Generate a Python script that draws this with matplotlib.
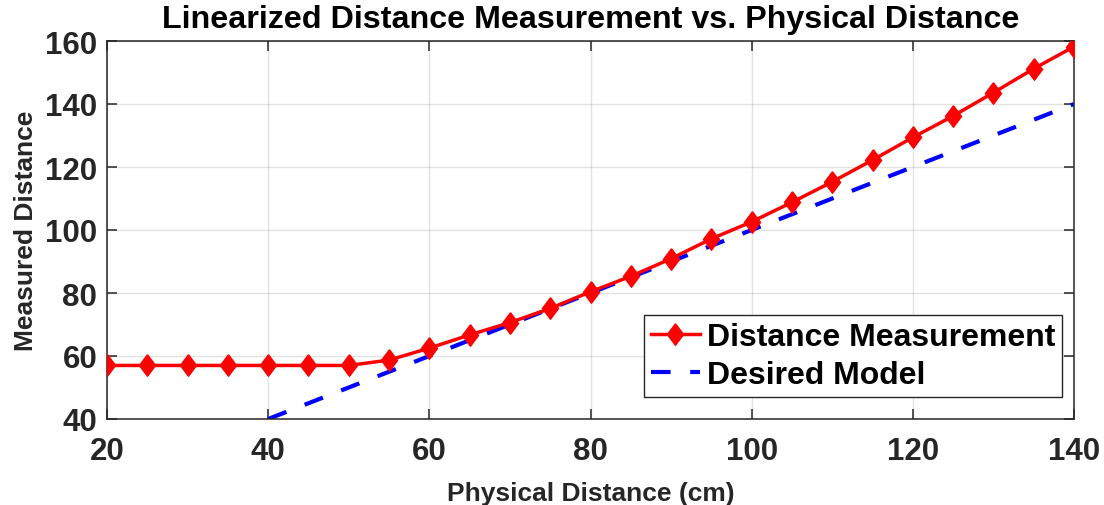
import matplotlib
matplotlib.use("Agg")
import matplotlib.pyplot as plt
import numpy as np

plt.rcParams['font.family'] = ['Liberation Sans', 'DejaVu Sans']
plt.rcParams['font.weight'] = 'bold'

# Measured vs. physical distance (cm)
physical_cm = [20, 25, 30, 35, 40, 45, 50, 55, 60, 65, 70, 75, 80,
               85, 90, 95, 100, 105, 110, 115, 120, 125, 130, 135, 140]
measured = [57, 57, 57, 57, 57, 57, 57, 58.7, 62.5, 66.7, 70.6, 75.1, 80.4,
            85.3, 90.9, 97.2, 102.6, 108.8, 115.3, 122.2, 129.4, 136.2, 143.6, 151.2, 158.2]

# Ideal linear response
model_x = [40, 140]
model_y = [40, 140]

xticks = [20, 40, 60, 80, 100, 120, 140]
yticks = [40, 60, 80, 100, 120, 140, 160]

dark = '#262626'

fig = plt.figure(figsize=(11.04, 5.06), dpi=100)
ax = fig.add_axes([107 / 1104, 86 / 506, (1074 - 107) / 1104, (420 - 42) / 506])

diamond = [(0, 1), (0.75, 0), (0, -1), (-0.75, 0), (0, 1)]
ax.plot(physical_cm, measured, color='red', linewidth=2.5, marker=diamond,
        markersize=15.5, markerfacecolor='red', markeredgecolor='red',
        label='Distance Measurement', zorder=3)
ax.plot(model_x, model_y, color='blue', linewidth=3.0, linestyle=(0, (4.7, 4.7)),
        dash_capstyle='butt', label='Desired Model', zorder=2)

ax.set_xlim(20, 140)
ax.set_ylim(40, 160)
ax.set_xticks(xticks)
ax.set_yticks(yticks)
ax.grid(True, color=dark, alpha=0.13, linewidth=1.0)
ax.set_axisbelow(True)

for s in ax.spines.values():
    s.set_color(dark)
    s.set_linewidth(1.1)

ax.tick_params(axis='both', which='both', direction='in', length=7, width=1.1,
               color=dark, top=True, right=True, labelsize=22.5,
               labelcolor=dark)
ax.tick_params(axis='x', pad=12)
ax.tick_params(axis='y', pad=7)

ax.set_xlabel('Physical Distance (cm)', fontsize=19, color=dark, fontweight='bold', labelpad=11)
ax.set_ylabel('Measured Distance', fontsize=19, color=dark, fontweight='bold', labelpad=5)
ax.set_title('Linearized Distance Measurement vs. Physical Distance',
             fontsize=23.2, color='black', fontweight='bold', pad=10)

leg = ax.legend(loc='lower right', bbox_to_anchor=(1062 / 1104, (506 - 398) / 506),
                bbox_transform=fig.transFigure, fontsize=23, frameon=True,
                fancybox=False, edgecolor=dark, framealpha=1.0,
                handlelength=1.55, handletextpad=0.2, borderpad=0.22,
                labelspacing=0.25, borderaxespad=0)
leg.get_frame().set_linewidth(1.0)
for t in leg.get_texts():
    t.set_color('black')

fig.savefig('out.png', dpi=100)
